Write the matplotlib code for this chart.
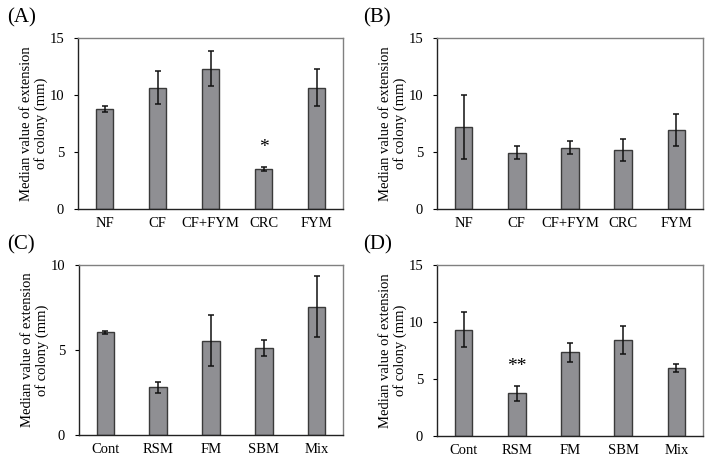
import numpy as np
import matplotlib
matplotlib.use('Agg')
import matplotlib.pyplot as plt

plt.rcParams['font.family'] = ['Liberation Serif', 'DejaVu Serif']

#-------------------------------------------------------
# Dados
cat_AB = ['NF', 'CF', 'CF+FYM', 'CRC', 'FYM']
cat_CD = ['Cont', 'RSM', 'FM', 'SBM', 'Mix']

val_A = [8.75, 10.65, 12.3, 3.5, 10.65]
err_A = [0.25, 1.43, 1.55, 0.15, 1.6]

val_B = [7.2, 4.95, 5.38, 5.18, 6.94]
err_B = [2.8, 0.6, 0.55, 0.95, 1.43]

val_C = [6.04, 2.8, 5.55, 5.12, 7.55]
err_C = [0.08, 0.3, 1.48, 0.45, 1.8]

val_D = [9.32, 3.76, 7.35, 8.44, 5.97]
err_D = [1.55, 0.65, 0.85, 1.25, 0.38]

# (rótulo, categorias, valores, erros, ylim, ticks, asterisco)
paineis = [
    ('(A)', cat_AB, val_A, err_A, 15, [0, 5, 10, 15], (3, 5.4, '*')),
    ('(B)', cat_AB, val_B, err_B, 15, [0, 5, 10, 15], None),
    ('(C)', cat_CD, val_C, err_C, 10, [0, 5, 10], None),
    ('(D)', cat_CD, val_D, err_D, 15, [0, 5, 10, 15], (1, 6.1, '**')),
]

# posições dos eixos em pixels (esq, dir, topo, base)
W, H = 713, 466
caixas = [(78, 343, 38, 209), (437, 703, 38, 209),
          (79, 343, 265, 435), (437, 703, 265, 436)]
pos_rot = [(7, 18), (363, 18), (7, 245), (363, 245)]

fig = plt.figure(figsize=(W / 100, H / 100), dpi=100)

for (rot, cats, vals, errs, ymax, ticks, ast), (l, r, t, b), (rx, ry) in zip(paineis, caixas, pos_rot):
    ax = fig.add_axes([l / W, 1 - b / H, (r - l) / W, (b - t) / H])
    x = np.arange(len(cats))
    ax.bar(x, vals, width=0.33, color='#8f8f93', edgecolor='#3a3a3a', linewidth=1.0,
           yerr=errs, capsize=2.5, error_kw=dict(ecolor='#111111', elinewidth=1.1, capthick=1.1))
    ax.set_xlim(-0.5, len(cats) - 0.5)
    ax.set_ylim(0, ymax)
    ax.set_yticks(ticks)
    ax.set_xticks(x)
    ax.set_xticklabels(cats, fontsize=10.5)
    ax.tick_params(axis='y', labelsize=10.5, length=3, width=0.8, direction='out', pad=7)
    ax.tick_params(axis='x', length=0, pad=6)
    ax.set_ylabel('Median value of extension\nof colony (mm)', fontsize=10.5, linespacing=1.1, labelpad=1)
    ax.spines['left'].set_color('#222222')
    ax.spines['bottom'].set_color('#222222')
    ax.spines['top'].set_color('#808080')
    ax.spines['right'].set_color('#808080')
    for s in ax.spines.values():
        s.set_linewidth(1.0)
    if ast is not None:
        ax.text(ast[0], ast[1], ast[2], ha='center', va='center', fontsize=14)
    fig.text(rx / W, 1 - ry / H, rot, ha='left', va='center', fontsize=15)

plt.savefig('out.png', dpi=100)
